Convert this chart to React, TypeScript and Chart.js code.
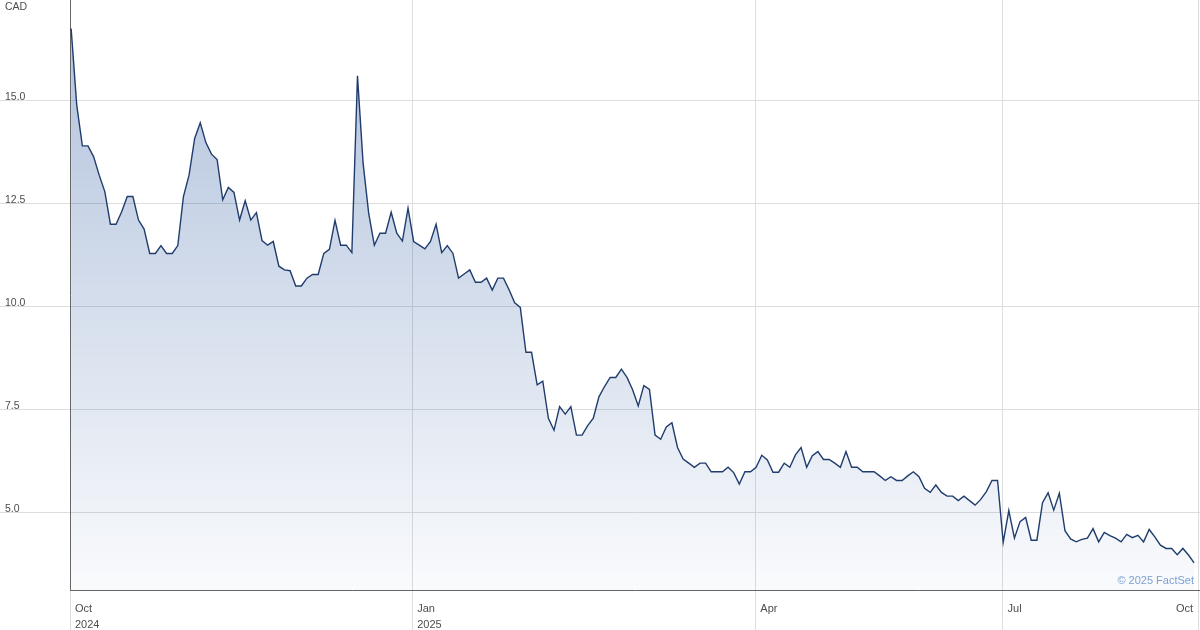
import React, { useEffect, useRef } from "react";
import { Chart, registerables } from "chart.js";

Chart.register(...registerables);

// Closing prices (CAD), one per session
const prices: number[] = [
  16.76, 14.9, 13.91, 13.91, 13.65, 13.2, 12.8, 12.01, 12.01, 12.31,
  12.68, 12.68, 12.11, 11.89, 11.3, 11.3, 11.49, 11.3, 11.3, 11.49,
  12.68, 13.2, 14.09, 14.47, 13.99, 13.71, 13.58, 12.6, 12.9, 12.78,
  12.11, 12.58, 12.11, 12.29, 11.61, 11.5, 11.59, 10.99, 10.9, 10.88,
  10.51, 10.51, 10.7, 10.79, 10.79, 11.3, 11.4, 12.1, 11.5, 11.5,
  11.32, 15.61, 13.49, 12.27, 11.5, 11.79, 11.79, 12.3, 11.79, 11.6,
  12.4, 11.59, 11.5, 11.41, 11.59, 12.01, 11.32, 11.49, 11.3, 10.7,
  10.8, 10.9, 10.6, 10.6, 10.7, 10.41, 10.7, 10.7, 10.42, 10.1,
  9.99, 8.9, 8.9, 8.11, 8.2, 7.3, 7.01, 7.58, 7.4, 7.58,
  6.89, 6.89, 7.12, 7.3, 7.82, 8.07, 8.29, 8.29, 8.49, 8.29,
  7.99, 7.6, 8.09, 8.0, 6.89, 6.79, 7.09, 7.19, 6.59, 6.31,
  6.21, 6.11, 6.21, 6.21, 6.0, 6.0, 6.0, 6.11, 5.98, 5.7,
  6.0, 6.0, 6.11, 6.4, 6.29, 5.99, 5.99, 6.21, 6.11, 6.41,
  6.59, 6.11, 6.39, 6.49, 6.3, 6.3, 6.21, 6.11, 6.49, 6.11,
  6.11, 6.0, 6.0, 6.0, 5.9, 5.79, 5.88, 5.79, 5.79, 5.9,
  6.0, 5.88, 5.6, 5.5, 5.68, 5.5, 5.41, 5.41, 5.3, 5.41,
  5.3, 5.19, 5.33, 5.52, 5.79, 5.79, 4.29, 5.06, 4.39, 4.79,
  4.89, 4.34, 4.34, 5.25, 5.49, 5.07, 5.48, 4.57, 4.37, 4.3,
  4.36, 4.39, 4.62, 4.3, 4.53, 4.45, 4.39, 4.3, 4.48, 4.4,
  4.46, 4.3, 4.6, 4.42, 4.22, 4.14, 4.14, 3.99, 4.14, 3.98,
  3.79,
];

// Session index at which each month label begins
const monthTickIndex: number[] = [-0.2, 60.75, 121.86, 165.88, 200.7];
const monthTickLines: string[][] = [["Oct", "2024"], ["Jan", "2025"], ["Apr"], ["Jul"], ["Oct"]];
const priceTicks: number[] = [5, 7.5, 10, 12.5, 15];
const currencyLabel = "CAD";
const creditLabel = "\u00A9 2025 FactSet";

const xMin = -0.2;
const xMax = 201.05;
const yMin = 3.131;
const yMax = 17.451;

const FONT = '"Liberation Sans", Arial, Helvetica, sans-serif';

export default function App() {
  const canvasRef = useRef<HTMLCanvasElement | null>(null);

  useEffect(() => {
    const canvas = canvasRef.current;
    if (!canvas) return;

    const textPlugin = {
      id: "textPlugin",
      afterDraw(chart: any) {
        const ctx = chart.ctx as CanvasRenderingContext2D;
        const xs = chart.scales.x;
        const ys = chart.scales.y;
        ctx.save();
        ctx.fillStyle = "#4d4d4d";
        ctx.textBaseline = "alphabetic";
        ctx.textAlign = "left";
        ctx.font = `10.5px ${FONT}`;
        ctx.fillText(currencyLabel, 5, 10);
        priceTicks.forEach((v) => {
          ctx.fillText(v.toFixed(1), 5, ys.getPixelForValue(v) - 1);
        });
        ctx.font = `11px ${FONT}`;
        monthTickIndex.forEach((idx, i) => {
          const px = xs.getPixelForValue(idx);
          const last = i === monthTickIndex.length - 1;
          ctx.textAlign = last ? "right" : "left";
          const tx = last ? px - 5 : px + 5;
          monthTickLines[i].forEach((line, j) => {
            ctx.fillText(line, tx, 612 + j * 16);
          });
        });
        ctx.font = `11px ${FONT}`;
        ctx.fillStyle = "#7ba0d4";
        ctx.textAlign = "right";
        ctx.fillText(creditLabel, 1194, 584);
        ctx.restore();
      },
    };

    const chart = new Chart(canvas, {
      type: "line",
      data: {
        datasets: [
          {
            data: prices.map((p, i) => ({ x: i, y: p })),
            borderColor: "#1f3c6c",
            borderWidth: 1.4,
            pointRadius: 0,
            tension: 0,
            fill: "start",
            backgroundColor: (c: any) => {
              const a = c.chart.chartArea;
              if (!a) return "rgba(20,70,150,0.2)";
              const g = c.chart.ctx.createLinearGradient(0, a.top, 0, a.bottom);
              g.addColorStop(0, "rgba(20,70,150,0.34)");
              g.addColorStop(0.45, "rgba(20,70,150,0.20)");
              g.addColorStop(1, "rgba(20,70,150,0.025)");
              return g;
            },
          },
        ],
      },
      options: {
        responsive: false,
        animation: false,
        devicePixelRatio: 1,
        layout: { padding: 0 },
        plugins: { legend: { display: false }, tooltip: { enabled: false } },
        scales: {
          x: {
            type: "linear",
            min: xMin,
            max: xMax,
            afterBuildTicks: (s: any) => {
              s.ticks = monthTickIndex.map((v) => ({ value: v }));
            },
            afterFit: (s: any) => {
              s.height = 40;
            },
            ticks: { display: false },
            grid: { color: "#dddddd", lineWidth: 1, tickLength: 40, drawTicks: true },
            border: { color: "#666666", width: 1 },
          },
          y: {
            type: "linear",
            min: yMin,
            max: yMax,
            afterBuildTicks: (s: any) => {
              s.ticks = priceTicks.map((v) => ({ value: v }));
            },
            afterFit: (s: any) => {
              s.width = 70;
            },
            ticks: { display: false },
            grid: { color: "#dddddd", lineWidth: 1, tickLength: 70, drawTicks: true },
            border: { color: "#666666", width: 1 },
          },
        },
      },
      plugins: [textPlugin],
    });

    return () => chart.destroy();
  }, []);

  return (
    <div style={{ position: "absolute", left: 0, top: 0, width: 1200, height: 630, background: "#fff" }}>
      <canvas ref={canvasRef} width={1200} height={630} style={{ display: "block" }} />
    </div>
  );
}
